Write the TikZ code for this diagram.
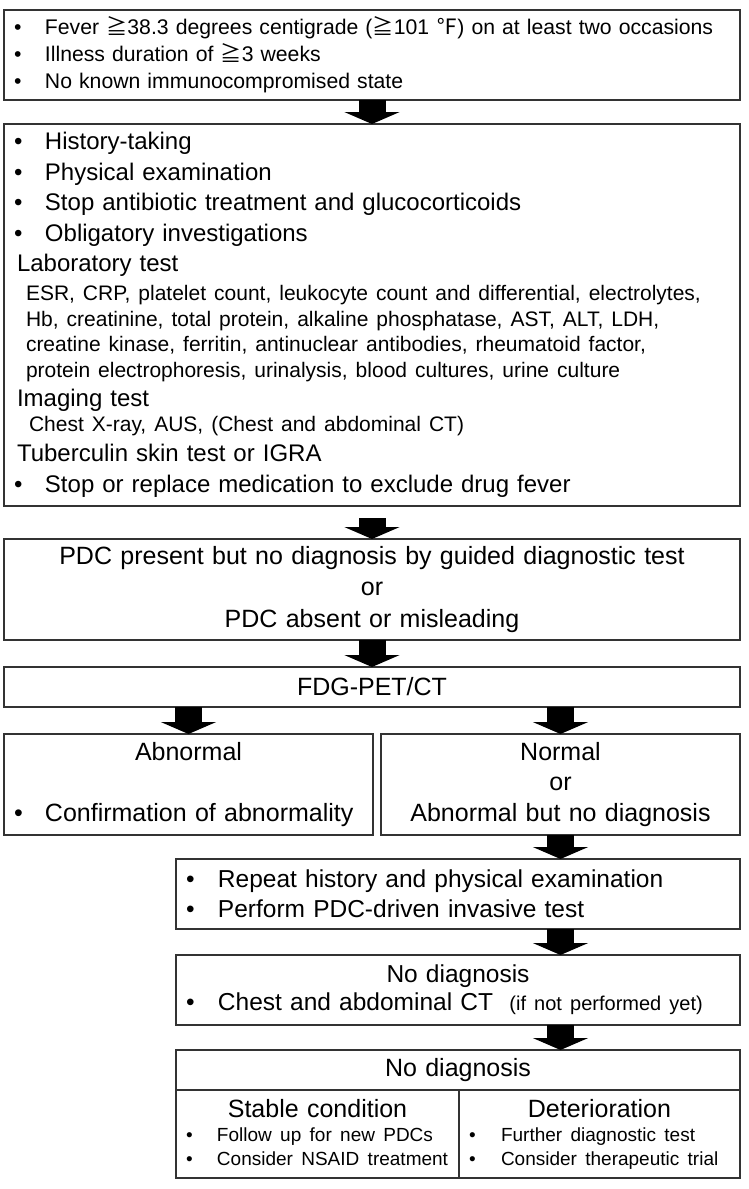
\documentclass[tikz,border=0pt]{standalone}
\usepackage{fontspec}
\setmainfont{Liberation Sans}
\newfontfamily\cjk{Noto Sans CJK JP}
\usetikzlibrary{positioning}
\usetikzlibrary{arrows.meta}

\newcommand{\setfs}[2]{\fontsize{#1}{#2}\selectfont}
\newcommand{\bl}[1][31pt]{\makebox[#1][l]{\textbullet}}
\newcommand{\hd}[1]{{\centering #1\par}}
\hyphenpenalty=10000

\begin{document}
\begin{tikzpicture}[x=1pt,y=1pt,
	box/.style={rectangle,draw=black!80,line width=1.3pt,inner xsep=10pt,inner ysep=0pt,outer sep=0pt,align=left},
	lbox/.style={box,execute at begin node={\raggedright}},
	bigarrow/.style={line width=27pt,-{Triangle[width=55pt,length=12pt]}},
	node distance = 24pt]
	\useasboundingbox (0,0) rectangle (749,-1189);
	\node[lbox,text width=716pt,minimum height=90pt,anchor=north west,font={\setfs{21.2}{27}}] (crit) at (4,-10)
		{\bl Fever {\cjk ≧}38.3 degrees centigrade ({\cjk ≧}101 {\cjk ℉}) on at least two occasions\par
		\bl Illness duration of {\cjk ≧}3 weeks\par
		\bl No known immunocompromised state\par};
	\node[lbox,text width=716pt,minimum height=382pt,font={\setfs{24}{30.5}}] (work)[below = 24pt of crit]
		{\bl History-taking\par
		\bl Physical examination\par
		\bl Stop antibiotic treatment and glucocorticoids\par
		\setfs{24}{31}\bl Obligatory investigations\par
		\setfs{24}{30}\hspace*{3pt}Laboratory test\par
		\setfs{21}{25.7}\vspace{3pt}\hspace*{12pt}ESR, CRP, platelet count, leukocyte count and differential, electrolytes,\par
		\hspace*{12pt}Hb, creatinine, total protein, alkaline phosphatase, AST, ALT, LDH,\par
		\hspace*{12pt}creatine kinase, ferritin, antinuclear antibodies, rheumatoid factor,\par
		\hspace*{12pt}protein electrophoresis, urinalysis, blood cultures, urine culture\par
		\setfs{24}{29.2}\hspace*{3pt}Imaging test\par
		\setfs{21}{24.8}\hspace*{15pt}Chest X-ray, AUS, (Chest and abdominal CT)\par
		\setfs{24}{30.2}\hspace*{3pt}Tuberculin skin test or IGRA\par
		\setfs{24}{31}\bl Stop or replace medication to exclude drug fever\par};
	\node[box,align=center,text width=716pt,minimum height=101pt,font={\setfs{25}{31.5}}] (pdc)[below = 33pt of work]
		{PDC present but no diagnosis by guided diagnostic test\\or\\PDC absent or misleading};
	\node[box,align=center,text width=716pt,minimum height=40pt,font={\setfs{25}{30}}] (fdg)[below = 27pt of pdc]{FDG-PET/CT};
	\node[lbox,text width=349pt,minimum height=101pt,font={\setfs{25}{30.5}}] (abn)[below = 27pt of fdg.south west,anchor=north west]
		{\hd{Abnormal}\vspace{30.5pt}\bl Confirmation of abnormality\par};
	\node[box,align=center,text width=339pt,minimum height=101pt,font={\setfs{25}{30.5}}] (norm)[right = 8pt of abn]
		{Normal\\or\\Abnormal but no diagnosis};
	\node[lbox,text width=544pt,minimum height=70pt,font={\setfs{24.5}{30}}] (rep)[below = 24pt of norm.south east,anchor=north east]
		{\bl[32pt]Repeat history and physical examination\par
		\bl[32pt]Perform PDC-driven invasive test\par};
	\node[lbox,text width=544pt,minimum height=70pt,font={\setfs{24.5}{28}}] (cta)[below = 26pt of rep]
		{\hd{No diagnosis}\bl[32pt]Chest and abdominal CT {\setfs{20}{28} (if not performed yet)}\par};
	\node[box,align=center,text width=544pt,minimum height=40pt,font={\setfs{25}{30}}] (nod)[below = 25pt of cta]{No diagnosis};
	\node[lbox,text width=263pt,minimum height=88pt,font={\setfs{25}{30}}] (stab)[below = 0pt of nod.south west,anchor=north west]
		{\hd{Stable condition}\setfs{19}{24}\bl[31pt]Follow up for new PDCs\par
		\bl[31pt]Consider NSAID treatment\vphantom{p}\par};
	\node[lbox,text width=261pt,minimum height=88pt,font={\setfs{25}{30}}] (det)[right = 0pt of stab]
		{\hd{Deterioration}\setfs{19}{24}\bl[32pt]Further diagnostic test\par
		\bl[32pt]Consider therapeutic trial\par};
	\draw[bigarrow] (crit) -- (work);
	\draw[bigarrow,shorten <=12pt] (work) -- (pdc);
	\draw[bigarrow] (pdc) -- (fdg);
	\draw[bigarrow] (abn.north |- fdg.south) -- (abn.north);
	\draw[bigarrow] (norm.north |- fdg.south) -- (norm.north);
	\draw[bigarrow] (norm.south) -- (norm.south |- rep.north);
	\draw[bigarrow] (rep.south -| norm.south) -- (cta.north -| norm.south);
	\draw[bigarrow] (cta.south -| norm.south) -- (nod.north -| norm.south);
\end{tikzpicture}
\end{document}
